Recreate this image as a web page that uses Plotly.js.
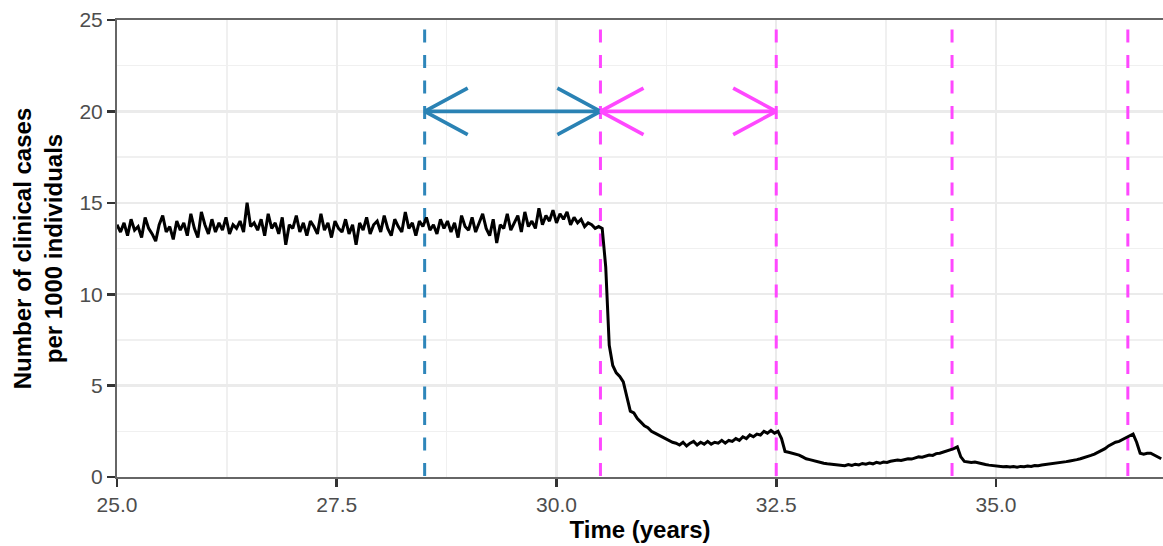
<!DOCTYPE html>
<html>
<head>
<meta charset="utf-8">
<script src="https://cdn.plot.ly/plotly-3.0.1.min.js"></script>
<style>html,body{margin:0;padding:0;background:#fff;}#chart{width:1163px;height:546px;}</style>
</head>
<body>
<div id="chart"></div>
<script>
// ---- data ----
const timeStart = 25.0;
const timeStep = 0.04;
const casesPlateau = [
  13.8,13.4,13.9,13.2,14.1,13.5,13.7,13.1,14.2,13.6,
  13.3,12.9,13.8,14.3,13.4,13.7,13.0,14.0,13.5,13.9,
  13.2,14.4,13.6,13.1,14.5,13.8,13.3,14.1,13.4,13.9,
  13.5,14.2,13.3,13.8,13.6,14.0,13.4,15.0,13.7,13.9,
  13.5,14.1,13.2,14.4,13.6,13.9,13.3,14.2,12.7,13.8,
  13.6,14.3,13.4,13.9,13.2,14.0,13.7,13.3,14.4,13.5,
  13.9,13.1,14.0,13.6,13.4,14.1,13.3,13.8,12.7,13.9,
  13.5,14.2,13.3,13.8,14.0,13.4,14.3,13.6,13.2,14.1,
  13.7,13.4,14.5,13.6,13.9,13.2,14.0,13.7,14.2,13.5,
  13.8,13.3,14.1,13.6,14.0,13.4,13.9,13.1,14.3,13.7,
  13.5,14.2,13.4,13.9,14.4,13.6,13.2,14.1,12.8,13.8,
  13.6,14.4,13.5,13.9,14.3,13.4,14.5,13.7,14.0,13.6,
  14.7,13.8,14.3,14.0,14.6,13.9,14.4,14.1,14.5,13.8,
  14.2,13.9,14.1,13.7,13.9,13.8,13.6,13.7,13.6
];
const casesAfter = [
  11.5,7.2,6.1,5.7,5.5,5.2,4.4,3.6,3.5,3.2,3.0,2.8,
  2.7,2.5,2.4,2.3,2.2,2.1,2.0,1.9,1.85,1.75,1.9,1.7,1.85,1.95,1.75,1.9,1.8,1.95,1.8,1.9,1.85,2.0,1.85,2.0,1.95,
  2.1,2.0,2.2,2.1,2.3,2.2,2.35,2.3,2.5,2.4,2.55,2.4,2.5,2.1,1.4,1.35,1.3,1.25,1.2,1.1,1.0,0.95,0.9,0.82,0.8,
  0.75,0.72,0.7,0.68,0.66,0.65,0.62,0.68,0.63,0.7,0.66,0.74,0.7,0.76,0.72,0.8,0.75,0.82,0.8,0.86,0.88,0.93,0.9,0.97,1.0,
  0.98,1.06,1.1,1.08,1.15,1.2,1.18,1.28,1.3,1.36,1.4,1.45,1.55,1.65,1.1,0.85,0.82,0.8,0.82,0.76,0.72,0.68,0.65,0.62,0.6,
  0.58,0.56,0.58,0.55,0.57,0.54,0.58,0.56,0.6,0.58,0.63,0.62,0.66,0.68,0.7,0.72,0.74,0.78,0.8,0.84,0.88,0.9,0.95,1.0,1.05,
  1.1,1.18,1.25,1.35,1.45,1.55,1.7,1.8,1.9,1.95,2.05,2.15,2.25,2.35,1.9,1.3,1.25,1.3,1.3,1.2,1.1,1.0
];
const blueLineX = [28.5];
const magentaLineX = [30.5, 32.5, 34.5, 36.5];
const arrowFrom = [28.5, 30.5];
const arrowTo = [30.5, 32.5];
const arrowY = [20, 20];
const xTickVals = [25.0, 27.5, 30.0, 32.5, 35.0];
const xTickText = ["25.0", "27.5", "30.0", "32.5", "35.0"];
const yTickVals = [0, 5, 10, 15, 20, 25];
const yTickText = ["0", "5", "10", "15", "20", "25"];

// ---- build ----
const cases = casesPlateau.concat(casesAfter);
const time = cases.map((_, i) => +(timeStart + i * timeStep).toFixed(4));

const blue = '#2E86BA';
const magenta = '#FF48FF';
const arrowColors = ['#2A82B4', '#FF48FF'];

const traces = [];
// vertical dashed lines (drawn top-down; start slightly above panel so pattern begins with a gap)
function vline(x, color) {
  traces.push({x: [x, x], y: [25.87, 0], mode: 'lines', type: 'scatter',
    line: {color: color, width: 3, dash: '13px,12.5px'}, hoverinfo: 'skip', showlegend: false});
}
blueLineX.forEach(x => vline(x, blue));
magentaLineX.forEach(x => vline(x, magenta));

// time series
traces.push({x: time, y: cases, mode: 'lines', type: 'scatter',
  line: {color: '#000', width: 3}, showlegend: false});

// double-headed arrows with open heads
const headDx = 0.49, headDy = 1.27;
arrowFrom.forEach((x0, k) => {
  const x1 = arrowTo[k], y = arrowY[k], c = arrowColors[k];
  traces.push({
    x: [x0, x1, null, x0 + headDx, x0, x0 + headDx, null, x1 - headDx, x1, x1 - headDx],
    y: [y, y, null, y + headDy, y, y - headDy, null, y + headDy, y, y - headDy],
    mode: 'lines', type: 'scatter', line: {color: c, width: 3.6}, showlegend: false, hoverinfo: 'skip'
  });
});

const gridColor = '#EBEBEB';
const layout = {
  width: 1163, height: 546,
  margin: {l: 117, r: 0, t: 20, b: 69},
  paper_bgcolor: '#fff', plot_bgcolor: '#fff',
  font: {family: 'Liberation Sans, Arial, sans-serif'},
  showlegend: false,
  xaxis: {
    range: [25, 36.9], tickvals: xTickVals, ticktext: xTickText,
    showgrid: true, gridcolor: gridColor, gridwidth: 2.4,
    minor: {dtick: 1.25, tick0: 25, showgrid: true, gridcolor: '#F0F0F0', gridwidth: 1.4, ticks: ''},
    showline: true, linecolor: '#666', linewidth: 2, mirror: true,
    ticks: 'outside', ticklen: 8, tickwidth: 2.6, tickcolor: '#333',
    tickfont: {size: 21, color: '#4D4D4D'}, zeroline: false,
    title: {text: '<b>Time (years)</b>', font: {size: 24, color: '#000'}, standoff: 6}
  },
  yaxis: {
    range: [0, 25], tickvals: yTickVals, ticktext: yTickText,
    showgrid: true, gridcolor: gridColor, gridwidth: 2.4,
    minor: {dtick: 2.5, tick0: 0, showgrid: true, gridcolor: '#F0F0F0', gridwidth: 1.4, ticks: ''},
    showline: true, linecolor: '#666', linewidth: 2,
    ticks: 'outside', ticklen: 8, tickwidth: 2.6, tickcolor: '#333',
    tickfont: {size: 21, color: '#4D4D4D'}, zeroline: false,
    title: {text: '<b>Number of clinical cases<br>per 1000 individuals</b>', font: {size: 24, color: '#000'}, standoff: 10}
  }
};

Plotly.newPlot('chart', traces, layout, {displayModeBar: false, staticPlot: true});
</script>
</body>
</html>
